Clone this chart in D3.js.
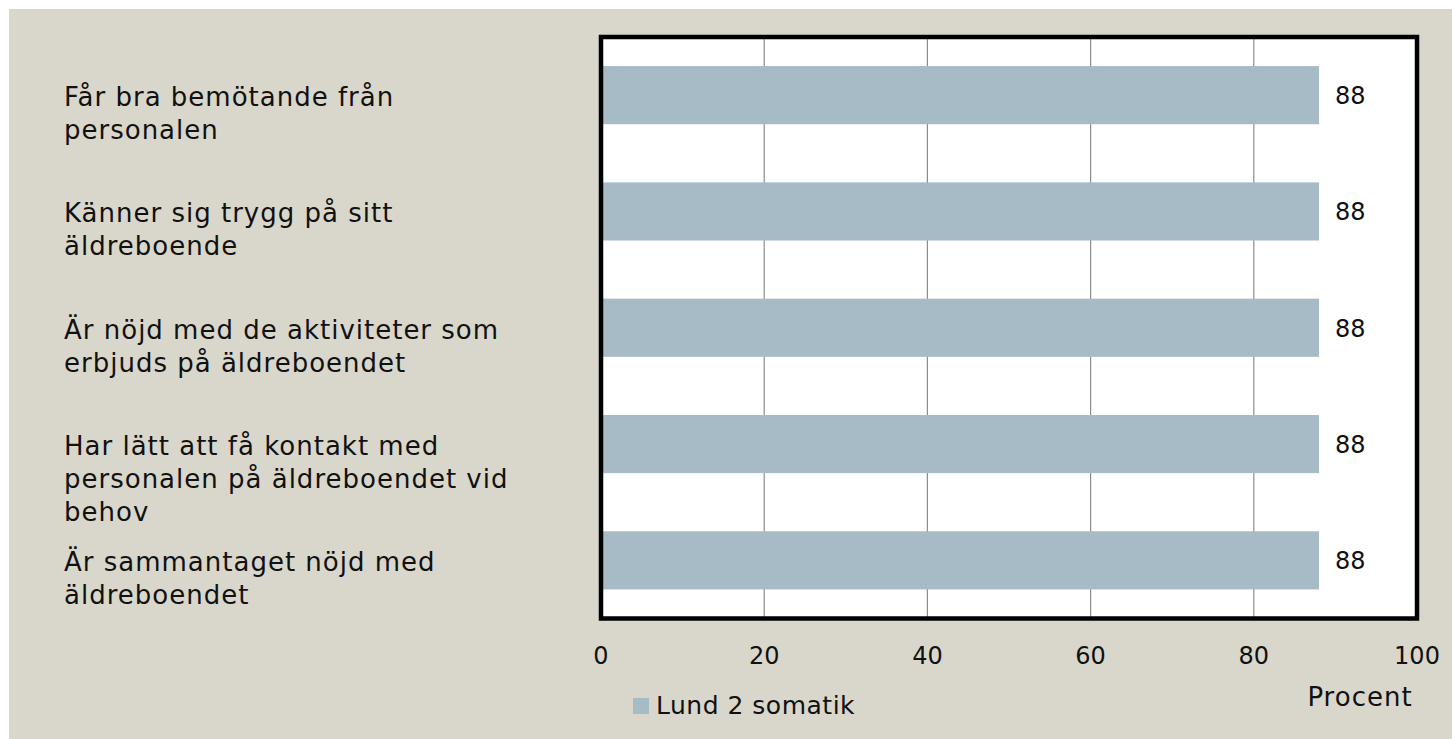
<!DOCTYPE html>
<html>
<head>
<meta charset="utf-8">
<script src="https://d3js.org/d3.v7.min.js"></script>
<style>
  body { margin: 0; background: #fff; font-family: "DejaVu Sans", sans-serif; }
  text { fill: #111; }
</style>
</head>
<body>
<div id="chart"></div>
<script>
// chart data
const categories = [
  "Får bra bemötande från\npersonalen",
  "Känner sig trygg på sitt\näldreboende",
  "Är nöjd med de aktiviteter som\nerbjuds på äldreboendet",
  "Har lätt att få kontakt med\npersonalen på äldreboendet vid\nbehov",
  "Är sammantaget nöjd med\näldreboendet"
];
const values = [88, 88, 88, 88, 88];
const seriesName = "Lund 2 somatik";
const xTicks = [0, 20, 40, 60, 80, 100];
const axisTitle = "Procent";

const W = 1452, H = 739;
const plot = { left: 601, right: 1417, top: 37, bottom: 618.5 };

const svg = d3.select("#chart").append("svg")
  .attr("width", W).attr("height", H);

svg.append("rect")
  .attr("x", 9).attr("y", 9)
  .attr("width", W - 9).attr("height", H - 9)
  .attr("fill", "#d9d7cb");

const x = d3.scaleLinear().domain([0, 100]).range([plot.left, plot.right]);
const y = d3.scaleBand()
  .domain(categories)
  .range([plot.top, plot.bottom])
  .paddingInner(0.5)
  .paddingOuter(0.25);

// plot background
svg.append("rect")
  .attr("x", plot.left).attr("y", plot.top)
  .attr("width", plot.right - plot.left).attr("height", plot.bottom - plot.top)
  .attr("fill", "#fff");

// gridlines
svg.append("g")
  .selectAll("line")
  .data(xTicks.slice(1, -1))
  .join("line")
  .attr("x1", d => x(d)).attr("x2", d => x(d))
  .attr("y1", plot.top).attr("y2", plot.bottom)
  .attr("stroke", "#8c8c8c")
  .attr("stroke-width", 1.2);

// bars
svg.append("g")
  .selectAll("rect")
  .data(values)
  .join("rect")
  .attr("x", x(0))
  .attr("y", (d, i) => y(categories[i]))
  .attr("width", d => x(d) - x(0))
  .attr("height", y.bandwidth())
  .attr("fill", "#a7bbc6");

// frame
svg.append("rect")
  .attr("x", plot.left).attr("y", plot.top)
  .attr("width", plot.right - plot.left).attr("height", plot.bottom - plot.top)
  .attr("fill", "none")
  .attr("stroke", "#000")
  .attr("stroke-width", 4.5);

// value labels
svg.append("g")
  .selectAll("text")
  .data(values)
  .join("text")
  .attr("x", d => x(d) + 16)
  .attr("y", (d, i) => y(categories[i]) + y.bandwidth() / 2 + 9)
  .style("font-size", "24px")
  .text(d => d);

// x axis tick labels
svg.append("g")
  .selectAll("text")
  .data(xTicks)
  .join("text")
  .attr("x", d => x(d))
  .attr("y", 664)
  .attr("text-anchor", "middle")
  .style("font-size", "24px")
  .text(d => d);

// category labels
const cat = svg.append("g")
  .selectAll("text")
  .data(categories)
  .join("text")
  .attr("x", 64)
  .attr("y", d => y(d) + y.bandwidth() / 2 + 11)
  .style("font-size", "26px")
  .style("letter-spacing", "1px");

cat.selectAll("tspan")
  .data(d => d.split("\n"))
  .join("tspan")
  .attr("x", 64)
  .attr("dy", (d, i) => i === 0 ? 0 : 33)
  .text(d => d);

// axis title
svg.append("text")
  .attr("x", 1360).attr("y", 706)
  .attr("text-anchor", "middle")
  .style("font-size", "26px")
  .style("letter-spacing", "1px")
  .text(axisTitle);

// legend
svg.append("rect")
  .attr("x", 633).attr("y", 698)
  .attr("width", 16).attr("height", 16)
  .attr("fill", "#a7bbc6");
svg.append("text")
  .attr("x", 656).attr("y", 714)
  .style("font-size", "25px")
  .style("letter-spacing", "0.5px")
  .text(seriesName);
</script>
</body>
</html>
